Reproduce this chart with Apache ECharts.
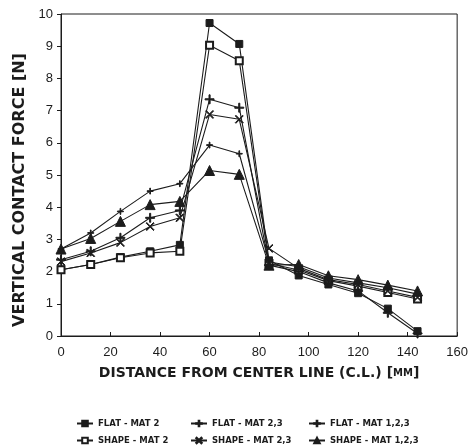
<!DOCTYPE html>
<html>
<head>
<meta charset="utf-8">
<script src="https://cdn.jsdelivr.net/npm/echarts@6/dist/echarts.min.js"></script>
<style>
  html, body { margin: 0; padding: 0; background: #fff; }
  #chart { width: 471px; height: 447px; }
</style>
</head>
<body>
<div id="chart"></div>
<script>
const distance = [0, 12, 24, 36, 48, 60, 72, 84, 96, 108, 120, 132, 144];

const flatMat2 = [2.06, 2.22, 2.45, 2.63, 2.83, 9.72, 9.07, 2.35, 1.88, 1.6, 1.33, 0.85, 0.15];
const shapeMat2 = [2.06, 2.22, 2.43, 2.58, 2.63, 9.03, 8.55, 2.25, 2.05, 1.72, 1.55, 1.35, 1.15];
const flatMat23 = [2.37, 2.63, 3.05, 3.67, 3.9, 7.35, 7.09, 2.2, 2.0, 1.65, 1.4, 0.72, 0.08];
const shapeMat23 = [2.31, 2.58, 2.9, 3.4, 3.67, 6.88, 6.73, 2.72, 2.1, 1.75, 1.6, 1.4, 1.2];
const flatMat123 = [2.7, 3.2, 3.87, 4.5, 4.73, 5.93, 5.66, 2.3, 2.15, 1.8, 1.65, 1.5, 1.3];
const shapeMat123 = [2.7, 3.03, 3.56, 4.08, 4.18, 5.14, 5.02, 2.2, 2.22, 1.87, 1.75, 1.58, 1.4];

const seriesNames = ["FLAT - MAT 2", "SHAPE - MAT 2", "FLAT - MAT 2,3", "SHAPE - MAT 2,3", "FLAT - MAT 1,2,3", "SHAPE - MAT 1,2,3"];

const plusPath = "path://M4.4,0H5.6V4.4H10V5.6H5.6V10H4.4V5.6H0V4.4H4.4Z";
const crossPath = "path://M0.8,0L5,4.2L9.2,0L10,0.8L5.8,5L10,9.2L9.2,10L5,5.8L0.8,10L0,9.2L4.2,5L0,0.8Z";

const ink = "#1c1c1c";

function makeSeries(name, values, symbol, size) {
  return {
    name,
    type: "line",
    data: values.map((v, i) => [distance[i], v]),
    symbol,
    symbolSize: size,
    showAllSymbol: true,
    lineStyle: { color: ink, width: 1.1 },
    itemStyle: { color: ink, borderColor: ink, borderWidth: 1 },
    emphasis: { disabled: true },
  };
}

const chart = echarts.init(document.getElementById("chart"));
const legendBase = {
  orient: "vertical",
  padding: 0,
  itemWidth: 16,
  itemHeight: 7,
  itemGap: 8,
  textStyle: { fontFamily: "DejaVu Sans", fontWeight: "bold", fontSize: 8.5, color: ink },
};

chart.setOption({
  animation: false,
  grid: { left: 61, right: 11, top: 14, bottom: 111, show: true, borderColor: ink, borderWidth: 1 },
  xAxis: {
    type: "value",
    min: 0,
    max: 160,
    interval: 20,
    name: "DISTANCE FROM CENTER LINE (C.L.) [{s|MM}]",
    nameLocation: "middle",
    nameGap: 30,
    nameTextStyle: {
      fontFamily: "DejaVu Sans",
      fontWeight: "bold",
      fontSize: 14,
      color: ink,
      rich: { s: { fontFamily: "DejaVu Sans", fontWeight: "bold", fontSize: 10, color: ink } },
    },
    axisLine: { lineStyle: { color: ink, width: 1 } },
    axisTick: { inside: true, length: 4, lineStyle: { color: ink } },
    axisLabel: { margin: 10, fontFamily: "Liberation Sans", fontSize: 13, color: ink },
    splitLine: { show: false },
  },
  yAxis: {
    type: "value",
    min: 0,
    max: 10,
    interval: 1,
    name: "VERTICAL CONTACT FORCE [N]",
    nameLocation: "middle",
    nameGap: 31,
    nameTextStyle: { fontFamily: "DejaVu Sans", fontWeight: "bold", fontSize: 16, color: ink, padding: [0, 30, 0, 0] },
    axisLine: { lineStyle: { color: ink, width: 1 } },
    axisTick: { inside: false, length: 4, lineStyle: { color: ink } },
    axisLabel: { margin: 8, fontFamily: "Liberation Sans", fontSize: 13, color: ink },
    splitLine: { show: false },
  },
  legend: [
    { ...legendBase, left: 76, top: 419, data: [seriesNames[0], seriesNames[1]] },
    { ...legendBase, left: 190, top: 419, data: [seriesNames[2], seriesNames[3]] },
    { ...legendBase, left: 308, top: 419, data: [seriesNames[4], seriesNames[5]] },
  ],
  series: [
    makeSeries(seriesNames[0], flatMat2, "rect", 7),
    makeSeries(seriesNames[1], shapeMat2, "emptyRect", 7),
    makeSeries(seriesNames[2], flatMat23, plusPath, 9),
    makeSeries(seriesNames[3], shapeMat23, crossPath, 8),
    makeSeries(seriesNames[4], flatMat123, plusPath, 6),
    makeSeries(seriesNames[5], shapeMat123, "triangle", 10),
  ],
});
</script>
</body>
</html>
